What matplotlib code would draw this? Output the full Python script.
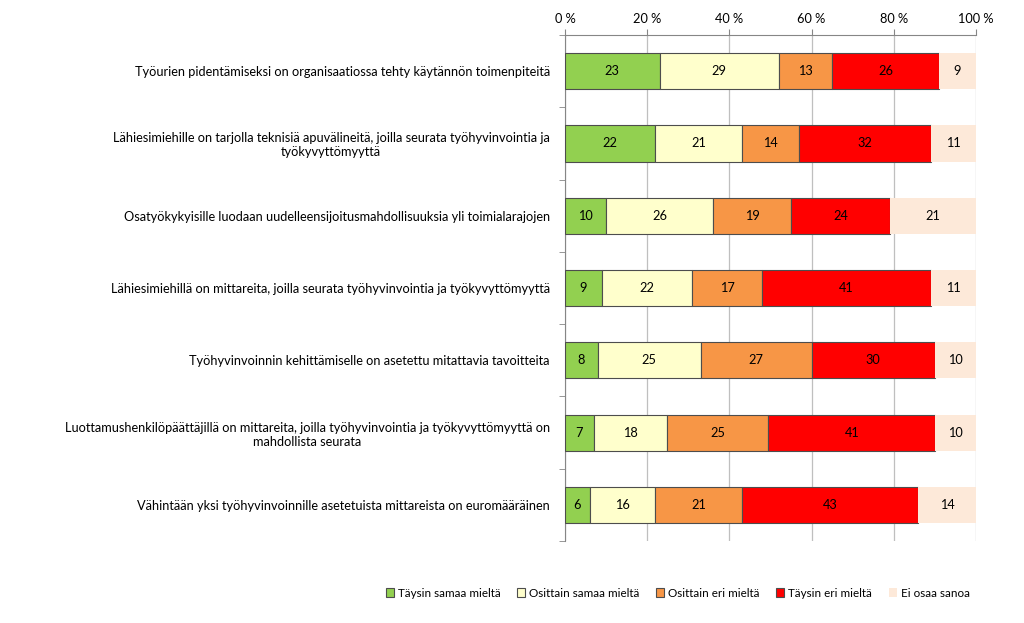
import numpy as np
import matplotlib
matplotlib.use("Agg")
import matplotlib.pyplot as plt
from matplotlib.ticker import FixedLocator

plt.rcParams["font.family"] = ["Lato", "DejaVu Sans"]

categories = [
    "Työurien pidentämiseksi on organisaatiossa tehty käytännön toimenpiteitä",
    "Lähiesimiehille on tarjolla teknisiä apuvälineitä, joilla seurata työhyvinvointia ja\ntyökyvyttömyyttä",
    "Osatyökykyisille luodaan uudelleensijoitusmahdollisuuksia yli toimialarajojen",
    "Lähiesimiehillä on mittareita, joilla seurata työhyvinvointia ja työkyvyttömyyttä",
    "Työhyvinvoinnin kehittämiselle on asetettu mitattavia tavoitteita",
    "Luottamushenkilöpäättäjillä on mittareita, joilla työhyvinvointia ja työkyvyttömyyttä on\nmahdollista seurata",
    "Vähintään yksi työhyvinvoinnille asetetuista mittareista on euromääräinen",
]
series_names = ["Täysin samaa mieltä", "Osittain samaa mieltä", "Osittain eri mieltä",
                "Täysin eri mieltä", "Ei osaa sanoa"]
taysin_samaa = [23, 22, 10, 9, 8, 7, 6]
osittain_samaa = [29, 21, 26, 22, 25, 18, 16]
osittain_eri = [13, 14, 19, 17, 27, 25, 21]
taysin_eri = [26, 32, 24, 41, 30, 41, 43]
ei_osaa = [9, 11, 21, 11, 10, 10, 14]

colors = ["#92D050", "#FFFFCC", "#F79646", "#FF0000", "#FDE9D9"]
edges = ["#4d4d4d", "#4d4d4d", "#4d4d4d", "#4d4d4d", "none"]
FS = 9.2

data = np.array([taysin_samaa, osittain_samaa, osittain_eri, taysin_eri, ei_osaa], dtype=float)
pct = data / data.sum(axis=0) * 100

fig = plt.figure(figsize=(10.24, 6.23), dpi=100)
ax = fig.add_axes([0.5518, 0.1316, 0.4013, 0.8122])

y = np.arange(len(categories))
left = np.zeros(len(categories))
for i, name in enumerate(series_names):
    bars = ax.barh(y, pct[i], left=left, height=0.5, color=colors[i],
                   edgecolor=edges[i], linewidth=0.8, label=name, zorder=3)
    for b, v in zip(bars, data[i]):
        ax.text(b.get_x() + b.get_width() / 2, b.get_y() + b.get_height() / 2,
                f"{int(v)}", ha="center", va="center", fontsize=FS, color="black", zorder=4)
    left += pct[i]

ax.set_xlim(0, 100)
ax.set_ylim(len(categories) - 0.5, -0.5)
ax.xaxis.tick_top()
ax.set_xticks(np.arange(0, 101, 20))
ax.set_xticklabels([f"{t} %" for t in range(0, 101, 20)], fontsize=FS)
ax.tick_params(axis="x", length=4, color="#868686", pad=3)
ax.grid(axis="x", color="#BFBFBF", linewidth=0.9, zorder=0)

ax.set_yticks(y)
ax.set_yticklabels(categories, fontsize=FS, multialignment="center")
ax.tick_params(axis="y", which="major", length=0, pad=11)
ax.yaxis.set_minor_locator(FixedLocator(np.arange(-0.5, len(categories), 1)))
ax.tick_params(axis="y", which="minor", length=4, color="#868686")

for side in ["right", "bottom"]:
    ax.spines[side].set_visible(False)
ax.spines["left"].set_color("#868686")
ax.spines["top"].set_color("#868686")

handles, labels = ax.get_legend_handles_labels()
leg = fig.legend(handles, labels, loc="center", bbox_to_anchor=(0.662, 0.048), ncol=5,
                 frameon=False, fontsize=8.4, handlelength=0.7, handleheight=0.7,
                 handletextpad=0.35, columnspacing=1.4)

fig.savefig("out.png", dpi=100)
